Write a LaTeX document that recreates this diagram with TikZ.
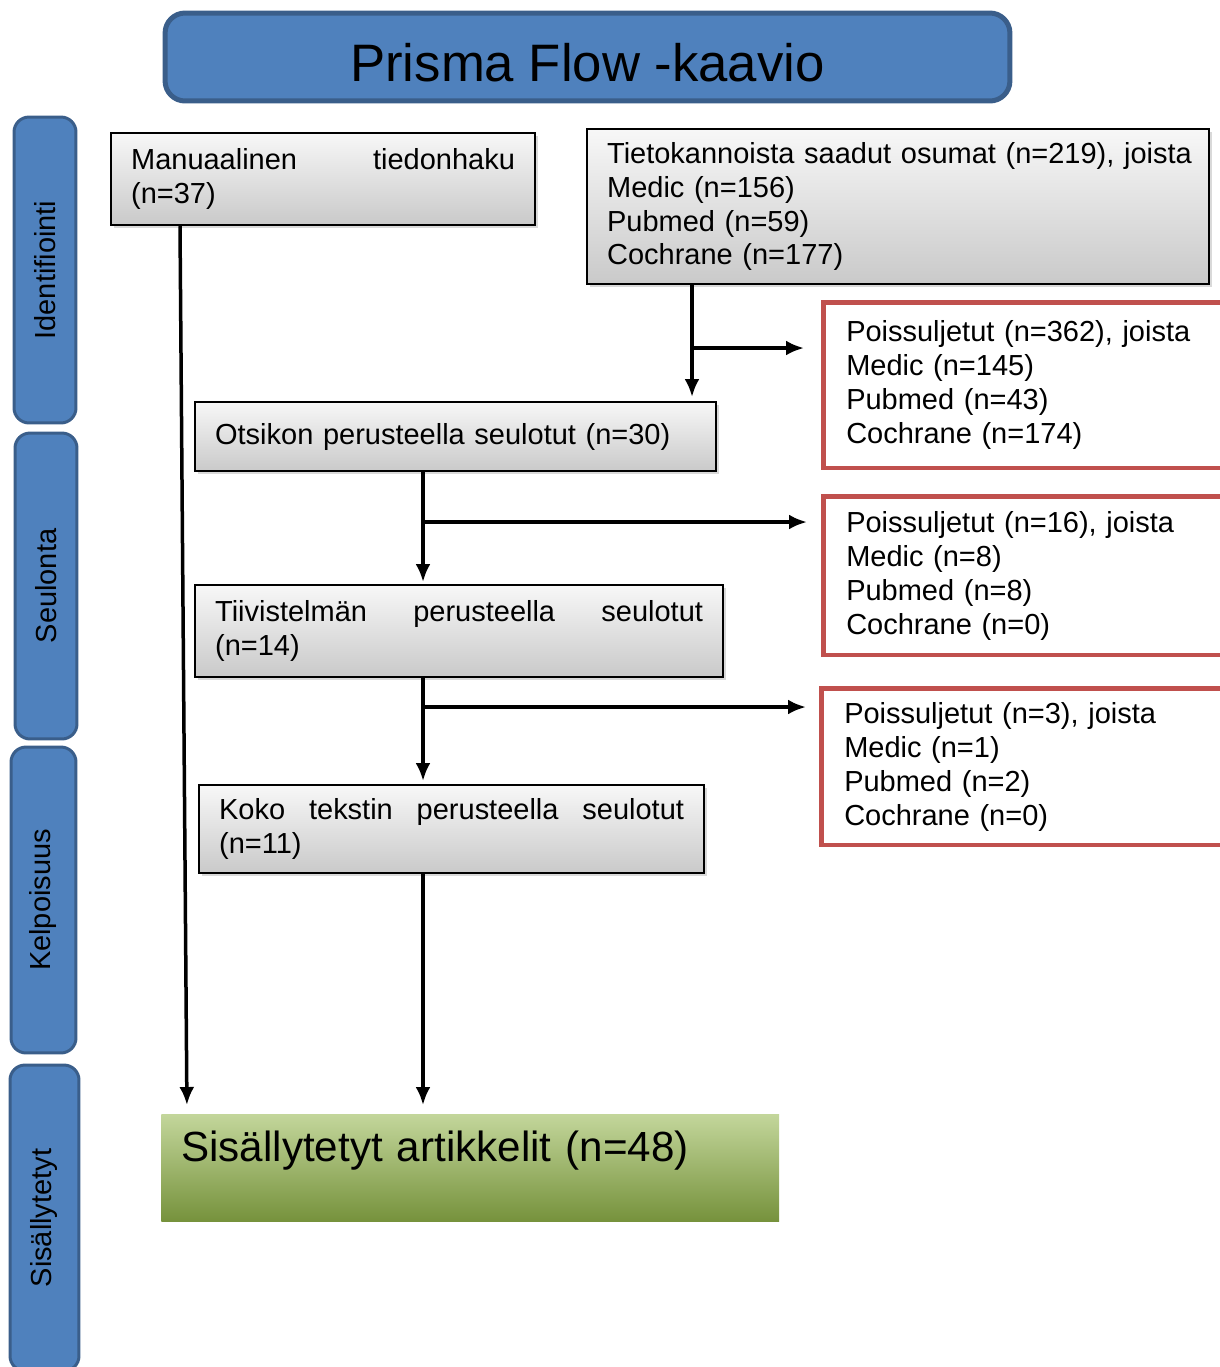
\documentclass[tikz,border=0pt]{standalone}
\usepackage{fontspec}
\setmainfont{Liberation Sans}
\usepackage{tikz}
\usetikzlibrary{arrows.meta, positioning, shadows}

\definecolor{bluefill}{HTML}{4F81BD}
\definecolor{blueedge}{HTML}{3A5E8A}
\definecolor{rededge}{HTML}{C0504D}
\definecolor{greentop}{HTML}{C3D69B}
\definecolor{greenbot}{HTML}{76923C}

\begin{document}
\begin{tikzpicture}[x=0.02cm,y=-0.02cm,>={Latex[length=0.36cm,width=0.3cm]}]
				\useasboundingbox (0,0) rectangle (1220,1367);
				\clip (0,0) rectangle (1220,1367);

				\tikzset{phase/.style={draw=blueedge,fill=bluefill,line width=0.06cm,rounded corners=0.3cm,rotate=90,minimum height=1.24cm,minimum width=6.12cm,inner sep=0pt,font=\fontsize{16.5}{19.3}\selectfont}}
				\tikzset{graybox/.style={draw=black,line width=0.045cm,top color=gray!6,bottom color=gray!42,anchor=north west,align=left,inner xsep=0.4cm,inner ysep=0pt,font=\fontsize{16.5}{19.3}\selectfont,drop shadow={shadow xshift=0.05cm,shadow yshift=-0.06cm,opacity=0.3}}}
				\tikzset{redbox/.style={draw=rededge,fill=white,line width=0.09cm,anchor=north west,align=left,inner xsep=0.46cm,inner ysep=0pt,text width=7.6cm,font=\fontsize{16.5}{19.3}\selectfont}}
				\tikzset{flow/.style={->,line width=0.07cm}}

				\node[draw=blueedge,fill=bluefill,line width=0.1cm,rounded corners=0.4cm,minimum width=16.9cm,minimum height=1.76cm,text height=0.97cm,text depth=0pt,font=\fontsize{30}{36}\selectfont] (title) at (587.5,57) {Prisma Flow -kaavio};

				\node[phase] (p1) at (45,270) {Identifiointi};
				\node[phase] (p2) at (46,586) {Seulonta};
				\node[phase,minimum height=1.3cm] (p3) at (43.5,900) {Kelpoisuus};
				\node[phase,minimum height=1.38cm] (p4) at (44.5,1218) {Sisällytetyt};

				\node[graybox,text width=7.68cm,minimum height=1.84cm] (man) at (110,132) {Manuaalinen\hfill tiedonhaku\\(n=37)};
				\node[graybox,text width=11.64cm,minimum height=3.1cm] (db) at (586,128) {\mbox{Tietokannoista saadut osumat (n=219), joista}\\Medic (n=156)\\Pubmed (n=59)\\Cochrane (n=177)};
				\node[graybox,text width=9.62cm,minimum height=1.38cm] (ots) at (194,401) {Otsikon perusteella seulotut (n=30)};
				\node[graybox,text width=9.76cm,minimum height=1.84cm] (tii) at (194,584) {Tiivistelmän\hfill perusteella\hfill seulotut\\(n=14)};
				\node[graybox,text width=9.3cm,minimum height=1.76cm] (koko) at (198,784) {Koko\hfill tekstin\hfill perusteella\hfill seulotut\\(n=11)};

				\node[redbox,minimum height=3.32cm] (ex1) at (821,300) {Poissuljetut (n=362), joista\\Medic (n=145)\\Pubmed (n=43)\\Cochrane (n=174)};
				\node[redbox,minimum height=3.18cm] (ex2) at (821,494) {Poissuljetut (n=16), joista\\Medic (n=8)\\Pubmed (n=8)\\Cochrane (n=0)};
				\node[redbox,minimum height=3.14cm] (ex3) at (819,686) {Poissuljetut (n=3), joista\\Medic (n=1)\\Pubmed (n=2)\\Cochrane (n=0)};

				\node[top color=greentop,bottom color=greenbot,anchor=north west,align=left,inner xsep=0.4cm,inner ysep=0pt,text width=11.56cm,text height=0.94cm,text depth=1.2cm,font=\fontsize{24}{29}\selectfont] (fin) at (161,1114) {Sisällytetyt artikkelit (n=48)};

				\coordinate (m1) at (180,0);
				\coordinate (m2) at (187,0);
				\coordinate (c1) at (692,348);
				\coordinate (c2) at (423,522);
				\coordinate (c3) at (423,707);
				\coordinate (c4) at (423,0);

				\draw[flow,shorten >=0.18cm] (man.south -| m1) -- (fin.north -| m2);
				\draw[flow,shorten >=0.08cm] (db.south -| c1) -- (ots.north -| c1);
				\draw[flow,shorten >=0.34cm] (c1) -- (ex1.west |- c1);
				\draw[flow,shorten >=0.04cm] (ots.south -| c2) -- (tii.north -| c2);
				\draw[flow,shorten >=0.28cm] (c2) -- (ex2.west |- c2);
				\draw[flow,shorten >=0.06cm] (tii.south -| c3) -- (koko.north -| c3);
				\draw[flow,shorten >=0.26cm] (c3) -- (ex3.west |- c3);
				\draw[flow,shorten >=0.18cm] (koko.south -| c4) -- (fin.north -| c4);
\end{tikzpicture}
\end{document}
